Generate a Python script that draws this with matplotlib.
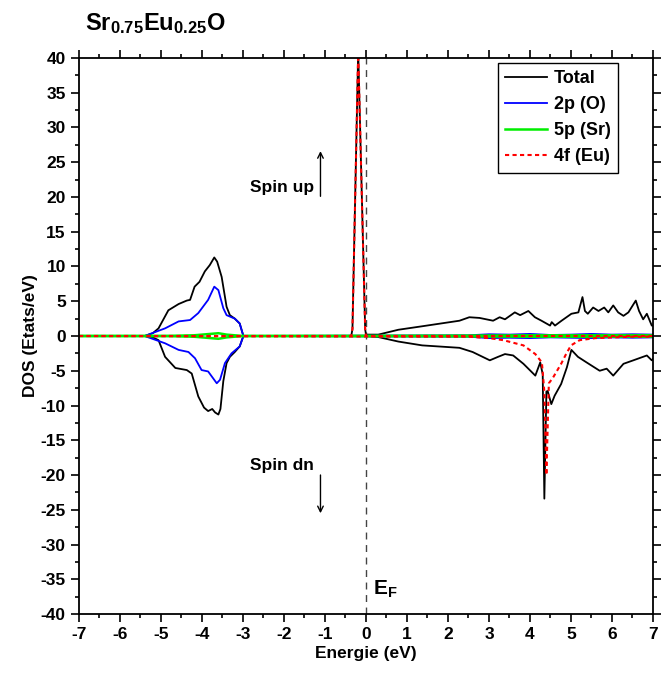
""" DOS plot for Sr0.75Eu0.25O (spin up / spin dn) """
import matplotlib
matplotlib.use("Agg")
import matplotlib.pyplot as plt
from matplotlib.ticker import MultipleLocator

plt.rcParams['font.family'] = ['Liberation Sans', 'DejaVu Sans']
plt.rcParams['font.weight'] = 'bold'
plt.rcParams['axes.unicode_minus'] = False
plt.rcParams['mathtext.fontset'] = 'custom'
plt.rcParams['mathtext.rm'] = 'Liberation Sans:bold'
plt.rcParams['mathtext.bf'] = 'Liberation Sans:bold'
plt.rcParams['mathtext.it'] = 'Liberation Sans:bold'

# --- Total DOS, spin up
e_tot_up = [-7.0, -5.40, -5.20, -5.06, -4.82, -4.57, -4.37, -4.29, -4.18, -4.06, -3.93,
            -3.81, -3.70, -3.63, -3.52, -3.40, -3.32, -3.20, -3.08, -2.99,
            -0.36, -0.33, -0.19, -0.02, 0.0, 0.30, 0.79, 1.37, 2.28, 2.52, 2.77,
            3.10, 3.26, 3.39, 3.63, 3.76, 3.96, 4.12, 4.28, 4.49, 4.53, 4.61, 4.77,
            5.01, 5.18, 5.28, 5.34, 5.41, 5.54, 5.67, 5.81, 5.91, 6.03, 6.15, 6.28,
            6.40, 6.58, 6.66, 6.76, 6.85, 6.97, 7.0]
dos_tot_up = [0.0, 0.0, 0.4, 1.1, 3.7, 4.6, 5.1, 5.2, 7.1, 7.8, 9.3,
              10.2, 11.3, 10.7, 8.5, 4.2, 3.0, 2.5, 1.8, 0.0,
              0.0, 1.0, 41.0, 1.0, 0.2, 0.2, 0.9, 1.4, 2.2, 2.7, 2.6,
              2.2, 2.7, 2.4, 3.4, 3.0, 3.6, 2.7, 2.2, 1.5, 2.0, 1.5, 2.2,
              3.2, 3.4, 5.6, 3.6, 3.2, 4.1, 3.6, 4.1, 3.4, 4.4, 3.4, 2.9,
              3.4, 5.1, 3.6, 2.4, 3.2, 1.5, 1.5]

# --- Total DOS, spin dn
e_tot_dn = [-7.0, -5.40, -5.20, -5.06, -4.90, -4.65, -4.37, -4.25, -4.09, -3.95, -3.85,
            -3.75, -3.68, -3.60, -3.55, -3.48, -3.40, -3.32, -3.20, -3.08, -2.99,
            0.0, 0.30, 0.79, 1.37, 2.28, 2.60, 3.02, 3.22, 3.39, 3.59, 3.84, 4.13,
            4.25, 4.31, 4.35, 4.40, 4.43, 4.52, 4.60, 4.76, 4.90, 5.01, 5.17, 5.38,
            5.70, 5.87, 6.03, 6.28, 6.52, 6.85, 6.97, 7.0]
dos_tot_dn = [0.0, 0.0, -0.2, -0.6, -3.0, -4.6, -4.9, -5.4, -8.7, -10.3, -10.8,
              -10.5, -11.0, -11.3, -10.5, -6.5, -3.9, -3.0, -2.3, -1.5, 0.0,
              0.0, -0.15, -0.8, -1.35, -1.7, -2.3, -3.5, -3.0, -2.6, -2.8, -4.0, -5.7,
              -3.8, -5.5, -23.4, -8.0, -7.9, -9.8, -8.6, -6.9, -4.5, -2.0, -3.0, -3.8,
              -5.0, -4.7, -5.7, -4.0, -3.5, -2.8, -3.5, -3.3]

# --- 2p (O)
e_o_up = [-7.0, -5.40, -4.90, -4.57, -4.29, -4.09, -3.85, -3.70, -3.60, -3.48, -3.40,
          -3.20, -3.08, -2.99, 2.5, 3.0, 3.5, 4.0, 4.5, 5.0, 5.5, 6.0, 6.5, 7.0]
dos_o_up = [0.0, 0.0, 1.1, 2.1, 2.3, 3.3, 5.2, 7.1, 6.6, 4.0, 3.0,
            2.5, 1.8, 0.0, 0.1, 0.25, 0.2, 0.3, 0.15, 0.2, 0.3, 0.2, 0.25, 0.2]
e_o_dn = [-7.0, -5.40, -4.90, -4.57, -4.33, -4.17, -4.01, -3.85, -3.64, -3.56, -3.44,
          -3.28, -3.08, -2.99, 2.5, 3.0, 3.5, 4.0, 4.5, 5.0, 5.5, 6.0, 6.5, 7.0]
dos_o_dn = [0.0, 0.0, -1.05, -2.0, -2.3, -3.2, -4.9, -5.1, -6.8, -6.3, -3.9,
            -2.5, -1.5, 0.0, -0.1, -0.3, -0.25, -0.3, -0.2, -0.25, -0.3, -0.2, -0.25, -0.2]

# --- 5p (Sr)
e_sr = [-7.0, -5.0, -4.2, -3.8, -3.6, -3.4, -3.0, 2.0, 4.0, 5.5, 7.0]
dos_sr_up = [0.0, 0.0, 0.1, 0.3, 0.4, 0.2, 0.0, 0.05, 0.1, 0.1, 0.1]
dos_sr_dn = [0.0, 0.0, -0.1, -0.3, -0.4, -0.2, 0.0, -0.05, -0.1, -0.1, -0.1]

# --- 4f (Eu)
e_eu_up = [-7.0, -0.36, -0.33, -0.19, -0.02, 0.0, 7.0]
dos_eu_up = [0.0, 0.0, 1.0, 41.0, 1.0, 0.0, 0.0]
e_eu_dn = [-7.0, 2.5, 3.0, 3.35, 3.84, 4.13, 4.29, 4.35, 4.40, 4.46, 4.56, 4.76,
           4.88, 5.00, 5.21, 5.60, 6.50, 7.0]
dos_eu_dn = [0.0, -0.1, -0.3, -0.6, -1.35, -2.6, -3.8, -8.0, -20.0, -6.8, -6.0, -4.0,
             -2.6, -1.35, -0.6, -0.3, -0.1, -0.1]

fig = plt.figure(figsize=(6.62, 6.79), dpi=100)
ax = fig.add_axes([0.1193, 0.0957, 0.8671, 0.8189])

ax.axvline(0, color='#444444', ls=(0, (5, 4)), lw=1.0, zorder=1)

ax.plot(e_tot_up, dos_tot_up, color='black', lw=1.3, label='Total')
ax.plot(e_tot_dn, dos_tot_dn, color='black', lw=1.3)
ax.plot(e_o_up, dos_o_up, color='#0000ff', lw=1.3, label='2p (O)')
ax.plot(e_o_dn, dos_o_dn, color='#0000ff', lw=1.3)
ax.plot(e_sr, dos_sr_up, color='#00ee00', lw=1.8, label='5p (Sr)')
ax.plot(e_sr, dos_sr_dn, color='#00ee00', lw=1.8)
ax.plot(e_eu_up, dos_eu_up, color='#ff0000', lw=1.5, ls=(0, (2, 1.6)), label='4f (Eu)')
ax.plot(e_eu_dn, dos_eu_dn, color='#ff0000', lw=1.5, ls=(0, (2, 1.6)))

ax.set_xlim(-7, 7)
ax.set_ylim(-40, 40)
ax.xaxis.set_major_locator(MultipleLocator(1))
ax.xaxis.set_minor_locator(MultipleLocator(0.5))
ax.yaxis.set_major_locator(MultipleLocator(5))
ax.yaxis.set_minor_locator(MultipleLocator(2.5))
ax.tick_params(which='both', direction='out', top=True, right=True, width=1.2, labelsize=12.5)
ax.tick_params(which='major', length=6)
ax.tick_params(which='minor', length=3)
for s in ax.spines.values():
    s.set_linewidth(1.3)

ax.set_xlabel('Energie (eV)', fontsize=12.5, fontweight='bold', labelpad=3)
ax.set_ylabel('DOS (Etats/eV)', fontsize=12.5, fontweight='bold', labelpad=2)

ax.text(-1.26, 21.4, 'Spin up', fontsize=12.5, fontweight='bold', ha='right', va='center')
ax.annotate('', xy=(-1.11, 27.0), xytext=(-1.11, 19.7),
            arrowprops=dict(arrowstyle='->', color='black', lw=1.0))
ax.text(-1.26, -18.6, 'Spin dn', fontsize=12.5, fontweight='bold', ha='right', va='center')
ax.annotate('', xy=(-1.11, -25.9), xytext=(-1.11, -19.6),
            arrowprops=dict(arrowstyle='->', color='black', lw=1.0))
ax.text(0.18, -36.5, r'E$_\mathrm{F}$', fontsize=15, fontweight='bold', ha='left', va='center')

leg = ax.legend(loc='upper right', bbox_to_anchor=(0.939, 0.991), borderaxespad=0,
                fancybox=False, edgecolor='black', fontsize=13, handlelength=2.3,
                labelspacing=0.5, handletextpad=0.4, borderpad=0.4, framealpha=1)
leg.get_frame().set_linewidth(1.0)
for t in leg.get_texts():
    t.set_fontweight('bold')

fig.text(0.128, 0.956, r'Sr$_{0.75}$Eu$_{0.25}$O', fontsize=17, fontweight='bold',
         ha='left', va='baseline')

fig.savefig('out.png', dpi=100)
